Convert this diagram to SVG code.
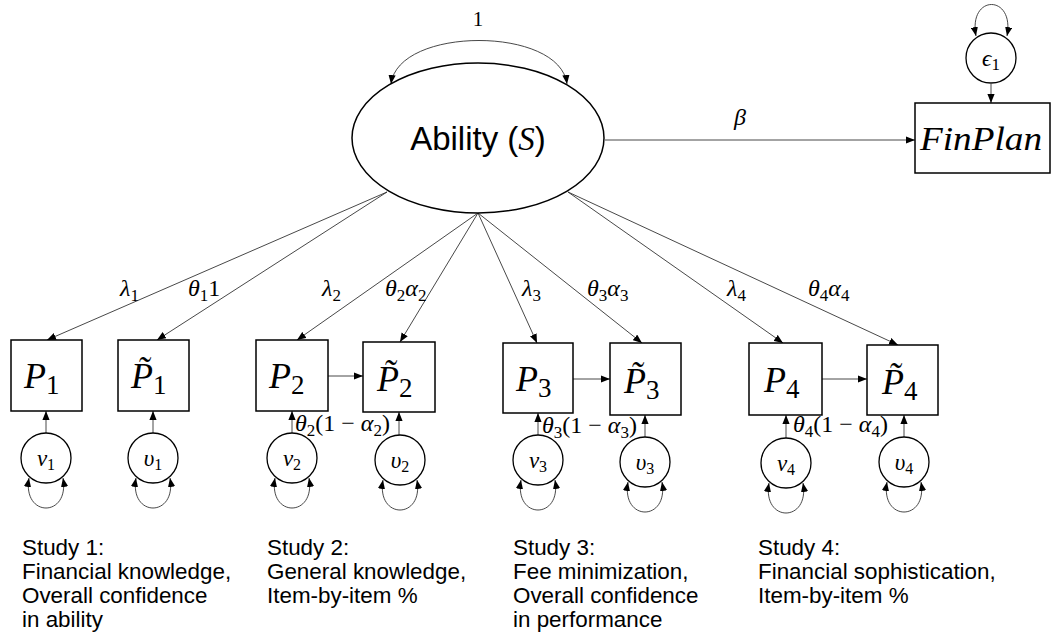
<svg xmlns="http://www.w3.org/2000/svg" width="1058" height="641" viewBox="0 0 1058 641">
  <style>
    .box { fill: #fff; stroke: #000; stroke-width: 1.5; }
    .circ { fill: #fff; stroke: #000; stroke-width: 1.3; }
    .edge { fill: none; stroke: #333; stroke-width: 0.9; marker-end: url(#ah); }
    .loop { fill: none; stroke: #333; stroke-width: 0.9; marker-start: url(#ah); marker-end: url(#ah); }
    .m { font-family: "Liberation Serif", "DejaVu Serif", serif; font-style: italic; fill: #000; }
    .up { font-style: normal; }
    .lab { font-size: 24px; }
    .var { font-size: 23px; }
    .pv { font-size: 36px; }
    .study { font-family: "Liberation Sans", Arial, sans-serif; font-size: 22.4px; fill: #000; }
    .sans { font-family: "Liberation Sans", Arial, sans-serif; fill: #000; }
  </style>
  <defs>
    <marker id="ah" viewBox="0 0 10 8" refX="10" refY="4" markerWidth="9" markerHeight="7.5" markerUnits="userSpaceOnUse" orient="auto-start-reverse">
      <path d="M0,0 L10,4 L0,8 z" fill="#000"/>
    </marker>
  </defs>

  <!-- connectors -->
  <g id="connectors">
    <!-- variance of the latent factor, fixed to 1 -->
    <path class="loop" d="M391,84 C398,26 560,26 567,84"/>
    <text class="m" x="478" y="26" font-size="21" text-anchor="middle"><tspan class="up">1</tspan></text>

    <!-- factor to outcome -->
    <path class="edge" d="M605,140 L915,140"/>
    <text class="m lab" x="740" y="125" text-anchor="middle">β</text>

    <!-- residual of the outcome -->
    <path class="loop" d="M976,36 C968,-6 1015,-6 1007,36"/>
    <path class="edge" d="M991,84 L991,103"/>

    <!-- loadings -->
    <path class="edge" d="M387,192 L47,340"/>
    <path class="edge" d="M387,192 L157,340"/>
    <path class="edge" d="M478,213 L297,340"/>
    <path class="edge" d="M478,213 L400,342"/>
    <path class="edge" d="M478,213 L537,343"/>
    <path class="edge" d="M478,213 L642,343"/>
    <path class="edge" d="M568,192 L783,343"/>
    <path class="edge" d="M568,192 L898,345"/>

    <text class="m lab" x="120" y="296">λ<tspan class="up" font-size="17" dy="5">1</tspan></text>
    <text class="m lab" x="188" y="296">θ<tspan class="up" font-size="17" dy="5">1</tspan><tspan class="up" dy="-5">1</tspan></text>
    <text class="m lab" x="322" y="296">λ<tspan class="up" font-size="17" dy="5">2</tspan></text>
    <text class="m lab" x="385" y="296">θ<tspan class="up" font-size="17" dy="5">2</tspan><tspan dy="-5">α</tspan><tspan class="up" font-size="17" dy="5">2</tspan></text>
    <text class="m lab" x="522" y="296">λ<tspan class="up" font-size="17" dy="5">3</tspan></text>
    <text class="m lab" x="587" y="296">θ<tspan class="up" font-size="17" dy="5">3</tspan><tspan dy="-5">α</tspan><tspan class="up" font-size="17" dy="5">3</tspan></text>
    <text class="m lab" x="727" y="296">λ<tspan class="up" font-size="17" dy="5">4</tspan></text>
    <text class="m lab" x="808" y="296">θ<tspan class="up" font-size="17" dy="5">4</tspan><tspan dy="-5">α</tspan><tspan class="up" font-size="17" dy="5">4</tspan></text>

    <!-- direct paths between measures -->
    <path class="edge" d="M328,376 L363,376"/>
    <path class="edge" d="M573,379 L610,379"/>
    <path class="edge" d="M822,379 L867,379"/>

    <!-- residuals into measures -->
    <path class="edge" d="M46,433 L46,411"/>
    <path class="edge" d="M153,433 L153,411"/>
    <path class="edge" d="M292,433 L292,411"/>
    <path class="edge" d="M399,435 L399,412"/>
    <path class="edge" d="M538,435 L538,413"/>
    <path class="edge" d="M645,437 L645,415"/>
    <path class="edge" d="M786,438 L786,415"/>
    <path class="edge" d="M904,437 L904,415"/>

    <text class="m lab" x="295" y="431">θ<tspan class="up" font-size="17" dy="5">2</tspan><tspan class="up" dy="-5">(1 − </tspan><tspan>α</tspan><tspan class="up" font-size="17" dy="5">2</tspan><tspan class="up" dy="-5">)</tspan></text>
    <text class="m lab" x="542" y="433">θ<tspan class="up" font-size="17" dy="5">3</tspan><tspan class="up" dy="-5">(1 − </tspan><tspan>α</tspan><tspan class="up" font-size="17" dy="5">3</tspan><tspan class="up" dy="-5">)</tspan></text>
    <text class="m lab" x="793" y="432">θ<tspan class="up" font-size="17" dy="5">4</tspan><tspan class="up" dy="-5">(1 − </tspan><tspan>α</tspan><tspan class="up" font-size="17" dy="5">4</tspan><tspan class="up" dy="-5">)</tspan></text>

    <!-- residual variances -->
    <path class="loop" d="M29,478 C22,518 70,518 63,478"/>
    <path class="loop" d="M136,478 C129,518 177,518 170,478"/>
    <path class="loop" d="M275,478 C268,518 316,518 309,478"/>
    <path class="loop" d="M383,480 C376,520 424,520 417,480"/>
    <path class="loop" d="M521,480 C514,520 562,520 555,480"/>
    <path class="loop" d="M628,482 C621,522 669,522 662,482"/>
    <path class="loop" d="M769,483 C762,523 810,523 803,483"/>
    <path class="loop" d="M887,482 C880,522 928,522 921,482"/>
  </g>

  <!-- latent factor -->
  <g id="ability">
    <ellipse cx="478" cy="138" rx="126" ry="75" fill="#fff" stroke="#000" stroke-width="1.5"/>
    <text x="478" y="150" text-anchor="middle" font-size="33"><tspan class="sans">Ability (</tspan><tspan class="m">S</tspan><tspan class="sans">)</tspan></text>
  </g>

  <!-- outcome and its residual -->
  <g id="finplan">
    <rect class="box" x="915" y="103" width="135" height="70"/>
    <text class="m" x="920" y="150" font-size="33" textLength="122" lengthAdjust="spacingAndGlyphs">FinPlan</text>
  </g>
  <g id="eps1">
    <circle class="circ" cx="991" cy="58" r="25"/>
    <text class="m var" x="991" y="66" text-anchor="middle">ϵ<tspan class="up" font-size="17" dy="4">1</tspan></text>
  </g>

  <!-- Study 1 -->
  <g id="P1">
    <rect class="box" x="11" y="340" width="71" height="71"/>
    <text class="m pv" x="24" y="388">P<tspan class="up" font-size="27" dy="6">1</tspan></text>
  </g>
  <g id="Pt1">
    <rect class="box" x="118" y="340" width="71" height="71"/>
    <text class="m pv" x="131" y="388">P&#x303;<tspan class="up" font-size="27" dy="6">1</tspan></text>
  </g>
  <g id="nu1">
    <circle class="circ" cx="46" cy="458" r="25"/>
    <text class="m var" x="46" y="466" text-anchor="middle">ν<tspan class="up" font-size="16" dy="4">1</tspan></text>
  </g>
  <g id="up1">
    <circle class="circ" cx="153" cy="458" r="25"/>
    <text class="m var" x="153" y="466" text-anchor="middle">υ<tspan class="up" font-size="16" dy="4">1</tspan></text>
  </g>

  <!-- Study 2 -->
  <g id="P2">
    <rect class="box" x="256" y="340" width="72" height="71"/>
    <text class="m pv" x="269" y="388">P<tspan class="up" font-size="27" dy="6">2</tspan></text>
  </g>
  <g id="Pt2">
    <rect class="box" x="363" y="342" width="72" height="70"/>
    <text class="m pv" x="377" y="391">P&#x303;<tspan class="up" font-size="27" dy="6">2</tspan></text>
  </g>
  <g id="nu2">
    <circle class="circ" cx="292" cy="458" r="25"/>
    <text class="m var" x="292" y="466" text-anchor="middle">ν<tspan class="up" font-size="16" dy="4">2</tspan></text>
  </g>
  <g id="up2">
    <circle class="circ" cx="400" cy="460" r="25"/>
    <text class="m var" x="400" y="468" text-anchor="middle">υ<tspan class="up" font-size="16" dy="4">2</tspan></text>
  </g>

  <!-- Study 3 -->
  <g id="P3">
    <rect class="box" x="503" y="343" width="70" height="70"/>
    <text class="m pv" x="516" y="391">P<tspan class="up" font-size="27" dy="6">3</tspan></text>
  </g>
  <g id="Pt3">
    <rect class="box" x="610" y="343" width="71" height="72"/>
    <text class="m pv" x="624" y="393">P&#x303;<tspan class="up" font-size="27" dy="6">3</tspan></text>
  </g>
  <g id="nu3">
    <circle class="circ" cx="538" cy="460" r="25"/>
    <text class="m var" x="538" y="468" text-anchor="middle">ν<tspan class="up" font-size="16" dy="4">3</tspan></text>
  </g>
  <g id="up3">
    <circle class="circ" cx="645" cy="462" r="25"/>
    <text class="m var" x="645" y="470" text-anchor="middle">υ<tspan class="up" font-size="16" dy="4">3</tspan></text>
  </g>

  <!-- Study 4 -->
  <g id="P4">
    <rect class="box" x="749" y="343" width="73" height="72"/>
    <text class="m pv" x="764" y="392">P<tspan class="up" font-size="27" dy="6">4</tspan></text>
  </g>
  <g id="Pt4">
    <rect class="box" x="867" y="345" width="71" height="70"/>
    <text class="m pv" x="882" y="394">P&#x303;<tspan class="up" font-size="27" dy="6">4</tspan></text>
  </g>
  <g id="nu4">
    <circle class="circ" cx="786" cy="463" r="25"/>
    <text class="m var" x="786" y="471" text-anchor="middle">ν<tspan class="up" font-size="16" dy="4">4</tspan></text>
  </g>
  <g id="up4">
    <circle class="circ" cx="904" cy="462" r="25"/>
    <text class="m var" x="904" y="470" text-anchor="middle">υ<tspan class="up" font-size="16" dy="4">4</tspan></text>
  </g>

  <!-- study descriptions -->
  <g id="study1">
    <text class="study" x="22" y="555">Study 1:</text>
    <text class="study" x="22" y="579">Financial knowledge,</text>
    <text class="study" x="22" y="603">Overall confidence</text>
    <text class="study" x="22" y="627">in ability</text>
  </g>
  <g id="study2">
    <text class="study" x="267" y="555">Study 2:</text>
    <text class="study" x="267" y="579">General knowledge,</text>
    <text class="study" x="267" y="603">Item-by-item %</text>
  </g>
  <g id="study3">
    <text class="study" x="513" y="555">Study 3:</text>
    <text class="study" x="513" y="579">Fee minimization,</text>
    <text class="study" x="513" y="603">Overall confidence</text>
    <text class="study" x="513" y="627">in performance</text>
  </g>
  <g id="study4">
    <text class="study" x="758" y="555">Study 4:</text>
    <text class="study" x="758" y="579">Financial sophistication,</text>
    <text class="study" x="758" y="603">Item-by-item %</text>
  </g>
</svg>
